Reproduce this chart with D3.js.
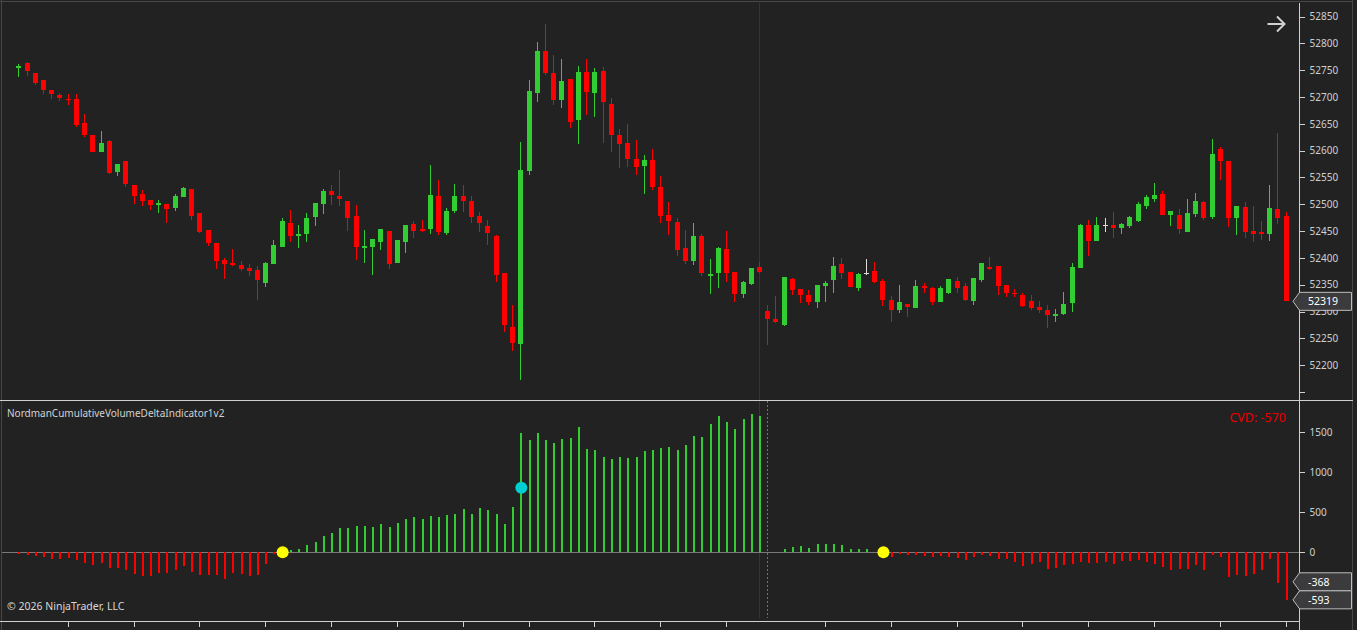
<!DOCTYPE html>
<html><head><meta charset="utf-8">
<script src="https://cdn.jsdelivr.net/npm/d3@7"></script>
<style>
html,body{margin:0;padding:0;background:#222222;overflow:hidden}
svg{display:block}
text{font-family:"Noto Sans","Open Sans",sans-serif}
</style></head><body>
<svg id="c" width="1357" height="630"></svg>
<script>
// ---- DATA ----
const opens  = [52754,52764,52745,52732,52714,52704,52697,52697,52652,52630,52598,52618,52561,52581,52536,52519,52508,52498,52501,52494,
52514,52529,52484,52452,52428,52396,52391,52387,52382,52378,52354,52388,52421,52466,52440,52444,52477,52500,52525,52516,
52506,52478,52419,52421,52429,52450,52391,52430,52463,52454,52454,52516,52447,52488,52516,52506,52478,52460,52441,52372,
52271,52240,52563,52707,52786,52745,52694,52734,52658,52747,52707,52749,52687,52629,52615,52585,52572,52583,52532,52480,
52467,52419,52395,52441,52367,52371,52417,52374,52333,52352,52383,52301,52286,52275,52361,52342,52331,52318,52348,52358,
52389,52374,52343,52371,52376,52357,52321,52302,52314,52307,52348,52344,52317,52335,52357,52348,52320,52359,52383,52385,
52350,52335,52330,52319,52309,52303,52292,52296,52315,52382,52462,52431,52462,52462,52455,52460,52469,52497,52510,52519,
52480,52480,52449,52482,52505,52477,52603,52581,52475,52495,52451,52449,52444,52491,52478];
const highs  = [52762,52765,52745,52732,52714,52708,52706,52706,52669,52630,52637,52620,52575,52581,52536,52527,52508,52508,52501,52520,
52533,52529,52484,52452,52428,52399,52416,52395,52389,52385,52393,52434,52475,52490,52462,52484,52503,52529,52536,52564,
52506,52499,52452,52435,52454,52450,52434,52461,52468,52471,52573,52545,52493,52538,52536,52516,52486,52471,52443,52372,
52312,52616,52732,52803,52837,52779,52771,52734,52758,52771,52754,52756,52699,52641,52650,52620,52592,52603,52553,52504,
52474,52452,52465,52445,52398,52420,52450,52374,52357,52381,52392,52312,52329,52364,52363,52342,52340,52349,52357,52402,
52400,52374,52372,52398,52392,52361,52329,52349,52314,52359,52353,52346,52348,52361,52364,52353,52363,52391,52402,52385,
52350,52342,52335,52330,52320,52313,52304,52337,52391,52463,52470,52477,52475,52486,52465,52478,52505,52518,52540,52525,
52488,52491,52510,52521,52506,52622,52607,52581,52497,52505,52497,52469,52536,52633,52486];
const lows   = [52737,52740,52722,52705,52696,52692,52686,52644,52625,52598,52598,52557,52552,52533,52501,52496,52490,52483,52466,52488,
52514,52470,52447,52423,52380,52360,52385,52376,52367,52322,52345,52388,52421,52430,52419,52430,52460,52481,52498,52496,
52451,52397,52391,52368,52415,52380,52391,52410,52438,52449,52445,52443,52442,52483,52486,52466,52449,52425,52356,52262,
52227,52173,52554,52690,52742,52686,52680,52643,52613,52667,52662,52615,52598,52567,52569,52554,52520,52527,52466,52443,
52404,52389,52387,52367,52333,52343,52356,52317,52326,52350,52372,52238,52279,52273,52330,52315,52313,52307,52317,52335,
52361,52345,52339,52369,52354,52311,52281,52298,52289,52307,52335,52313,52317,52333,52335,52320,52313,52356,52378,52331,
52328,52328,52309,52302,52298,52270,52281,52294,52300,52382,52404,52431,52449,52438,52444,52455,52467,52491,52505,52480,
52460,52445,52449,52477,52471,52473,52546,52457,52442,52438,52429,52434,52431,52464,52319];
const closes = [52758,52748,52727,52714,52705,52699,52694,52647,52630,52598,52615,52559,52575,52537,52515,52507,52498,52502,52492,52516,
52531,52479,52449,52427,52395,52388,52387,52380,52375,52358,52391,52424,52469,52440,52445,52475,52503,52525,52517,52509,
52475,52421,52422,52435,52454,52388,52434,52461,52451,52451,52518,52449,52488,52516,52506,52477,52466,52447,52369,52274,
52242,52564,52712,52786,52744,52694,52730,52654,52747,52710,52747,52690,52630,52613,52585,52570,52583,52533,52479,52468,
52415,52395,52441,52371,52370,52419,52372,52333,52355,52381,52374,52286,52281,52364,52341,52330,52318,52349,52353,52385,
52372,52346,52370,52371,52356,52322,52302,52318,52309,52348,52343,52317,52344,52361,52343,52322,52363,52391,52380,52348,
52335,52332,52311,52307,52302,52294,52296,52314,52383,52462,52431,52462,52462,52455,52463,52477,52501,52514,52518,52480,
52488,52453,52484,52506,52475,52594,52580,52475,52497,52449,52445,52444,52493,52475,52319];
const cvdValues = [-17,-29,-42,-54,-83,-83,-67,-91,-129,-158,-129,-191,-191,-216,-266,-291,-291,-258,-254,-216,
-166,-245,-279,-279,-279,-328,-258,-266,-291,-279,-141,-17,0,29,42,91,129,204,241,303,
303,328,328,316,353,316,366,416,441,416,453,441,466,478,540,478,553,528,478,353,
565,1488,1401,1488,1401,1363,1413,1426,1563,1289,1276,1189,1164,1189,1176,1189,1264,1276,1301,1314,
1276,1339,1451,1438,1600,1700,1625,1538,1663,1725,1700,0,0,42,66,79,54,104,104,104,
91,42,42,42,0,0,-54,-17,-29,-29,-42,-54,-42,-54,-67,-91,-54,-29,-42,-79,
-79,-116,-166,-141,-116,-204,-191,-154,-141,-116,-129,-129,-116,-141,-104,-104,-91,-116,-141,-179,
-216,-204,-204,-154,-216,-29,-54,-303,-279,-291,-266,-216,-79,-385,-593];
const dotCandles = [33, 62, 106];
const dotValues  = [0, 806, 0];
const dotKinds   = ["cross", "signal", "cross"];
const priceTicks = [52150,52200,52250,52300,52350,52400,52450,52500,52550,52600,52650,52700,52750,52800,52850];
const cvdTicks   = [0,500,1000,1500];
const timeTickCandles = [7,15,23,31,39,47,55,63,71,79,87,99,107,115,123,131,139,147,155];
const sessionBreakCandle = 92;
const lastPrice = 52319;
const cvdLabelValues = [-368, -593];
const cvdText = "CVD: -570";
const indicatorName = "NordmanCumulativeVolumeDeltaIndicator1v2";
const copyright = "© 2026 NinjaTrader, LLC";

// ---- CHART ----
const W = 1357, H = 630;
const AX = 1299.5;
const svg = d3.select("#c");
svg.append("rect").attr("width", W).attr("height", H).attr("fill", "#222222");

const n = opens.length;
const data = d3.range(n).map(j => ({k: j + 1, o: opens[j], h: highs[j], l: lows[j], c: closes[j], v: cvdValues[j]}));
const x = d3.scaleLinear().domain([1, n]).range([18.3, 1285.7]);
const yP = d3.scaleLinear().domain([52135, 52881]).range([400, 0]);
const yC = d3.scaleLinear().domain([-857, 1899]).range([621, 400]);
const px = k => Math.round(x(k));

// frame
const frame = svg.append("g").attr("stroke", "#474747").attr("fill", "none");
frame.append("line").attr("x1", 0).attr("x2", 1353).attr("y1", 1.5).attr("y2", 1.5);
frame.append("line").attr("x1", 1.5).attr("x2", 1.5).attr("y1", 0).attr("y2", H);
frame.append("line").attr("x1", 1352.5).attr("x2", 1352.5).attr("y1", 0).attr("y2", H);

// session break lines
svg.append("line").attr("x1", px(sessionBreakCandle - 1) + 0.5).attr("x2", px(sessionBreakCandle - 1) + 0.5)
  .attr("y1", 3).attr("y2", 618).attr("stroke", "#353535");
svg.append("line").attr("x1", px(sessionBreakCandle) + 0.5).attr("x2", px(sessionBreakCandle) + 0.5)
  .attr("y1", 401).attr("y2", 618).attr("stroke", "#737373").attr("stroke-dasharray", "2,2");

// candles
const col = d => d.c > d.o ? "#32cd32" : (d.c < d.o ? "#ff0000" : "#dcdcdc");
const cg = svg.append("g").attr("shape-rendering", "crispEdges");
cg.selectAll("rect.w").data(data).join("rect").attr("class", "w")
  .attr("x", d => px(d.k)).attr("width", 1)
  .attr("y", d => yP(d.h)).attr("height", d => Math.max(1, yP(d.l) - yP(d.h)))
  .attr("fill", col);
cg.selectAll("rect.b").data(data).join("rect").attr("class", "b")
  .attr("x", d => px(d.k) - 2).attr("width", 5)
  .attr("y", d => yP(Math.max(d.o, d.c)))
  .attr("height", d => Math.max(1, Math.abs(yP(d.o) - yP(d.c))))
  .attr("fill", col);

// separator
svg.append("line").attr("x1", 0).attr("x2", 1353).attr("y1", 400.5).attr("y2", 400.5).attr("stroke", "#cfcfcf");

// CVD zero line
svg.append("line").attr("x1", 2).attr("x2", AX).attr("y1", Math.round(yC(0)) + 0.5).attr("y2", Math.round(yC(0)) + 0.5)
  .attr("stroke", "#7a7a7a");

// CVD bars
const bg = svg.append("g").attr("shape-rendering", "crispEdges");
bg.selectAll("rect").data(data.filter(d => d.v !== 0)).join("rect")
  .attr("x", d => px(d.k)).attr("width", 2)
  .attr("y", d => Math.min(yC(d.v), yC(0)))
  .attr("height", d => Math.abs(yC(d.v) - yC(0)))
  .attr("fill", d => d.v > 0 ? "#32cd32" : "#ff0000");

// dots
const dotColor = {cross: "#ffff00", signal: "#00ced1"};
svg.append("g").selectAll("circle").data(dotCandles.map((k, i) => ({k, v: dotValues[i], t: dotKinds[i]})))
  .join("circle").attr("cx", d => x(d.k) + 1).attr("cy", d => yC(d.v)).attr("r", 6)
  .attr("fill", d => dotColor[d.t]);

// axes
const axisColor = "#cfcfcf";
function styleAxis(g) {
  g.select(".domain").remove();
  g.selectAll(".tick line").attr("stroke", axisColor);
  g.selectAll(".tick text").attr("fill", axisColor).style("font-size", "10px")
    .style("font-family", '"Noto Sans","Open Sans",sans-serif');
}
svg.append("g").attr("transform", `translate(${AX},0)`)
  .call(d3.axisRight(yP).tickValues(priceTicks).tickSize(5).tickPadding(5)
    .tickFormat(d => d < 52200 ? "" : d))
  .call(styleAxis);
svg.append("g").attr("transform", `translate(${AX},0)`)
  .call(d3.axisRight(yC).tickValues(cvdTicks).tickSize(5).tickPadding(5).tickFormat(d => d))
  .call(styleAxis);
svg.append("g").attr("transform", `translate(0,621)`)
  .call(d3.axisBottom(x).tickValues(timeTickCandles).tickSize(6).tickFormat(""))
  .call(styleAxis);
svg.selectAll(".tick line").attr("shape-rendering", "crispEdges");

svg.append("line").attr("x1", AX).attr("x2", AX).attr("y1", 3).attr("y2", 630).attr("stroke", axisColor);
svg.append("line").attr("x1", 0).attr("x2", AX).attr("y1", 621.5).attr("y2", 621.5).attr("stroke", axisColor);

// price label box
function labelBox(yv, txt) {
  const g = svg.append("g");
  const h = 9;
  g.append("path").attr("d", `M${AX - 6.5},${yv} L${AX},${yv - h} H1351.5 V${yv + h} H${AX} Z`)
    .attr("fill", "#3b3b3e").attr("stroke", "#bdbdbd");
  g.append("text").attr("x", 1308).attr("y", yv).attr("dy", "0.36em").attr("fill", "#ffffff")
    .style("font-size", "10.5px").text(txt);
}
labelBox(yP(lastPrice), lastPrice);
cvdLabelValues.forEach(v => labelBox(yC(v), v));

// texts
svg.append("text").attr("x", 7).attr("y", 417).attr("fill", "#d2d2d2").style("font-size", "10px").text(indicatorName);
svg.append("text").attr("x", 7).attr("y", 610).attr("fill", "#d8d8d8").style("font-size", "10.5px").text(copyright);
svg.append("text").attr("x", 1286).attr("y", 422).attr("text-anchor", "end").attr("fill", "#e60000")
  .style("font-size", "12.5px").text(cvdText);

// arrow icon
svg.append("path").attr("d", "M1267.5,24 H1284.5 M1277,16.5 L1284.5,24 L1277,31.5")
  .attr("fill", "none").attr("stroke", "#d0d0d0").attr("stroke-width", 2);
</script>
</body></html>
